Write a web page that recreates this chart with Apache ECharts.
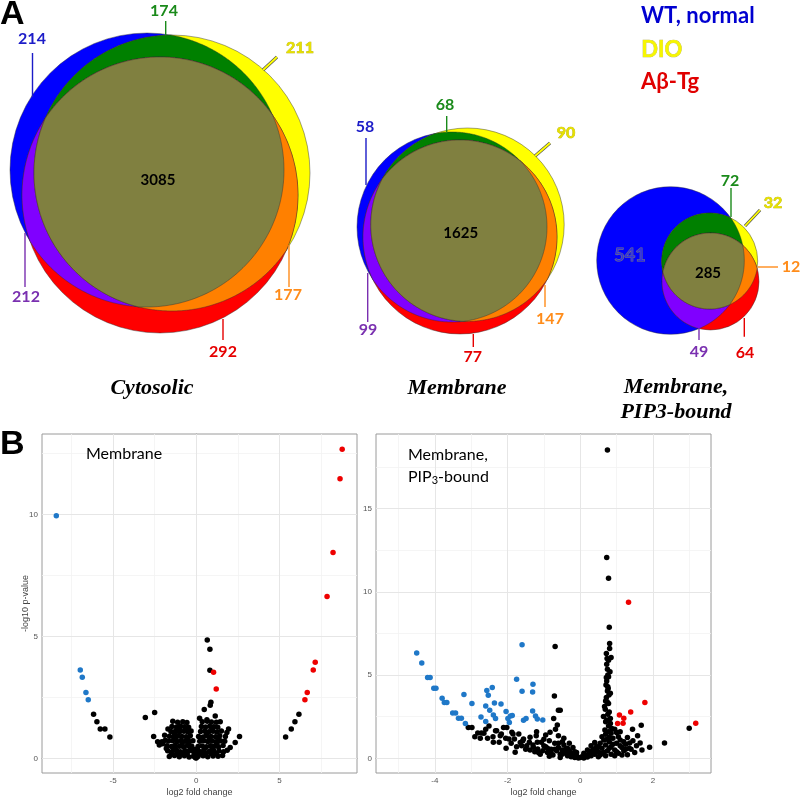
<!DOCTYPE html>
<html><head><meta charset="utf-8">
<script src="https://cdn.jsdelivr.net/npm/echarts@6/dist/echarts.min.js"></script>
<style>html,body{margin:0;padding:0;background:#fff}#c{width:800px;height:798px}</style>
</head><body><div id="c"></div>
<script>
// ---------------- DATA ----------------
const vennRegions = ['WT only','WT∩DIO','DIO only','WT∩DIO∩Aβ','WT∩Aβ','DIO∩Aβ','Aβ only'];
const cytosolicCounts = [214,174,211,3085,212,177,292];
const membraneCounts  = [58,68,90,1625,99,147,77];
const pip3Counts      = [541,72,32,285,49,12,64];
const vennTitles = ['Cytosolic','Membrane','Membrane,\nPIP3-bound'];
const legendNames = ['WT, normal','DIO','Aβ-Tg'];

// Volcano: Membrane
const membraneDown = [[-8.41,9.95],[-6.97,3.62],[-6.85,3.33],[-6.63,2.70],[-6.49,2.40]];
const membraneUp = [[8.77,12.67],[8.64,11.46],[8.22,8.44],[7.86,6.64],[7.15,3.94],[7.03,3.62],[6.67,2.70],[6.53,2.40],[1.04,3.53],[1.2,2.84]];
const membraneNS = [
 [-6.17,1.81],[-5.97,1.5],[-5.77,1.2],[-5.49,1.2],[-5.19,0.88],
 [6.17,1.81],[5.93,1.5],[5.71,1.2],[5.37,0.88],
 [0.66,4.85],[0.82,4.47],[0.82,3.61],[0.88,2.3],[0.84,2.18],[0.48,2.0],[0.2,1.64],[0.64,1.58],[1.14,1.74],[1.44,1.5],
 [1.84,1.06],[1.94,1.2],[2.04,0.45],[2.34,0.65],[2.6,0.9],
 [-3.06,1.68],[-2.5,1.88],[-2.56,0.9],[-2.32,0.68],[-2.06,0.68],
 [-1.62,0.08],[-1.31,0.12],[-1.02,0.07],[-0.71,0.11],[-0.43,0.06],[-0.16,0.09],
 [-1.72,0.31],[-1.44,0.28],[-1.19,0.33],[-0.96,0.27],[-0.68,0.32],[-0.47,0.29],[-0.22,0.31],
 [-1.76,0.52],[-1.49,0.49],[-1.27,0.54],[-1.01,0.5],[-0.77,0.48],[-0.52,0.53],[-0.27,0.5],
 [-1.66,0.71],[-1.41,0.72],[-1.14,0.69],[-0.91,0.73],[-0.66,0.7],[-0.41,0.68],[-0.2,0.72],
 [-1.61,0.91],[-1.36,0.88],[-1.09,0.92],[-0.86,0.9],[-0.61,0.89],[-0.36,0.93],
 [-1.52,1.1],[-1.24,1.12],[-1.01,1.08],[-0.74,1.11],[-0.51,1.09],[-0.31,1.12],
 [-1.46,1.31],[-1.19,1.29],[-0.96,1.33],[-0.71,1.3],[-0.46,1.28],
 [-1.41,1.52],[-1.12,1.48],[-0.81,1.5],[-0.56,1.47],
 [-1.86,0.74],[-2.02,0.6],[-2.22,0.55],[-1.9,0.95],[-1.8,0.4],[-1.7,1.2],
 [-1.5,0.2],[-1.15,0.18],[-0.85,0.2],[-0.55,0.17],[-1.3,0.4],[-0.85,0.6],[-0.35,0.4],[-1.25,0.8],[-0.5,0.8],[-1.0,1.2],[-0.6,1.2],[-1.3,1.0],
 [0.1,0.08],[0.41,0.11],[0.69,0.07],[1.01,0.1],[1.31,0.09],[1.58,0.12],
 [0.16,0.29],[0.44,0.31],[0.76,0.28],[1.04,0.32],[1.36,0.3],[1.64,0.27],[1.86,0.33],
 [0.11,0.49],[0.36,0.51],[0.61,0.48],[0.86,0.52],[1.09,0.5],[1.34,0.47],[1.61,0.53],
 [0.21,0.7],[0.46,0.72],[0.69,0.69],[0.96,0.71],[1.19,0.68],[1.46,0.72],[1.71,0.7],
 [0.14,0.9],[0.41,0.88],[0.66,0.92],[0.89,0.9],[1.16,0.89],[1.41,0.93],
 [0.26,1.1],[0.51,1.12],[0.76,1.09],[1.01,1.11],[1.24,1.08],[1.51,1.12],
 [0.31,1.31],[0.56,1.29],[0.81,1.32],[1.06,1.3],[1.29,1.28],
 [0.36,1.5],[0.66,1.52],[0.91,1.49],[1.21,1.48],
 [0.25,0.18],[0.55,0.2],[0.9,0.19],[1.2,0.2],[0.5,0.4],[0.95,0.4],[1.25,0.6],[0.3,0.85],[0.8,0.8],[1.3,0.85],[0.6,1.0],[0.95,1.2],
 [-0.05,0.03],[0.02,0.18],[-0.08,0.36],[0.0,0.01],[-0.12,0.2],[0.06,0.38],[1.75,0.9],[-0.6,0.2]
];

// Volcano: Membrane, PIP3-bound
const pip3Down = [
 [-4.5,6.32],[-4.36,5.73],[-4.2,4.85],[-4.13,4.85],[-4.03,4.21],[-3.97,4.21],[-3.8,3.61],[-3.74,3.35],[-3.67,3.35],
 [-3.51,2.73],[-3.43,2.73],[-3.35,2.41],[-3.27,2.41],[-3.16,2.1],[-3.2,3.83],[-2.98,3.29],[-2.73,2.49],[-2.6,3.15],
 [-2.57,4.07],[-2.53,3.79],[-2.42,4.25],[-2.49,2.89],[-2.39,2.61],[-2.6,2.22],[-2.33,2.4],[-2.36,3.33],[-2.18,3.27],
 [-2.04,2.81],[-1.99,2.4],[-1.92,2.55],[-1.87,2.57],[-1.95,2.15],[-1.75,4.75],[-1.6,4.03],[-1.6,6.83],[-1.3,4.45],
 [-1.31,3.99],[-1.31,2.85],[-1.23,2.55],[-1.18,2.37],[-1.03,2.31],[-1.56,2.29],[-1.49,2.4]
];
const pip3Up = [[1.33,9.38],[1.78,3.35],[1.39,2.79],[1.08,2.61],[1.2,2.41],[1.03,2.1],[1.18,2.11],[3.18,2.11]];
const pip3NS = [
 [0.75,18.52],[0.73,12.07],[0.78,10.82],[0.8,7.88],[0.81,6.9],[0.81,6.6],[0.85,6.05],[0.78,5.89],[0.73,5.65],[0.75,5.35],
 [0.72,4.85],[0.78,4.9],[0.73,4.65],[0.75,4.05],[0.83,3.91],[0.72,3.65],[0.78,3.3],[0.67,3.11],[0.8,2.79],[0.64,2.51],
 [0.83,2.4],[0.73,2.3],[0.83,2.1],[0.87,1.8],[0.78,1.6],[0.7,1.45],[0.8,1.25],[0.6,1.3],[0.76,4.3],[0.7,3.45],[0.82,5.2],
 [0.72,6.3],[0.74,6.0],[0.76,5.0],[0.71,4.4],[0.77,4.2],[0.79,3.8],[0.74,3.4],[0.69,2.95],[0.76,2.65],[0.7,2.2],[0.78,1.95],
 [0.68,1.7],[0.74,1.15],[0.85,1.5],
 [-0.69,6.72],[-0.71,3.75],[-0.6,2.89],[-0.55,2.89],[-0.73,2.4],[-0.63,2.0],[-0.83,1.56],[-0.68,1.75],[-0.6,1.36],[-0.49,1.0],
 [-3.08,1.85],[-2.98,1.85],[-2.82,1.52],[-2.72,1.52],[-2.55,1.2],[-2.51,1.95],[-2.39,0.96],[-2.23,0.96],[-2.3,1.65],[-2.2,1.35],
 [-2.04,0.6],[-1.79,0.36],[-2.02,1.85],[-1.88,1.56],[-1.81,1.16],[-1.69,1.46],[-1.56,1.16],[-1.47,0.76],[-1.38,1.26],[-1.29,0.66],
 [-1.18,0.96],[-1.21,1.35],[-1.07,0.96],[-1.03,0.46],[-1.4,0.96],[-1.38,0.5],[-1.17,0.56],[-1.61,0.76],[-1.58,1.05],[-1.96,1.16],
 [-1.85,1.46],[-2.11,1.86],[-2.17,1.46],[-2.33,1.65],[-2.65,1.5],[-2.9,1.3],
 [-0.95,0.7],[-0.9,0.35],[-0.85,1.05],[-0.8,0.55],[-0.75,0.2],[-0.7,0.9],[-0.65,0.45],[-0.6,0.65],[-0.55,0.25],[-0.5,0.5],
 [-0.45,0.8],[-0.4,0.3],[-0.35,0.15],[-0.3,0.45],[-0.25,0.1],[-0.2,0.3],[-0.15,0.05],[-0.1,0.15],[-0.05,0.02],[0,0.05],
 [0.05,0.1],[0.1,0.02],[0.15,0.2],[0.2,0.08],[0.25,0.35],[0.3,0.15],[0.35,0.55],[0.4,0.25],[0.45,0.7],[0.5,0.4],
 [0.55,0.9],[0.6,0.6],[0.65,1.1],[0.7,0.8],[0.75,0.45],[0.8,1.0],[0.85,0.7],[0.9,1.2],[0.95,0.5],[1.0,0.9],
 [1.05,0.3],[1.1,1.1],[1.15,0.65],[1.2,0.45],[1.25,0.85],[1.35,0.6],[1.45,1.05],[1.3,0.22],[0.4,0.95],[0.2,0.5],
 [-0.15,0.4],[-1.1,0.25],[-1.25,0.4],[-0.35,0.6],[0.3,0.75],[0.55,0.2],[0.65,0.35],[0.95,0.15],[-0.55,0.05],[-0.85,0.12],
 [0.3,0.4],[0.5,0.7],[0.6,0.3],[0.8,0.6],[0.9,0.85],[1.0,0.4],[1.05,1.3],[1.1,0.75],[1.2,1.0],[1.25,0.55],[1.3,1.25],
 [1.15,0.2],[0.85,0.25],[0.5,0.1],[0.35,0.3],[0.45,0.45],[0.7,0.15],[1.4,0.55],[1.5,0.35],[1.55,0.75],[1.7,0.5],
 [1.0,1.55],[0.95,1.75],[1.1,1.6],
 [-0.3,0.2],[-0.4,0.55],[-0.5,0.25],[-0.6,0.9],[-0.7,0.55],[-0.8,0.3],[-0.9,0.6],[-1.0,0.75],[-1.0,1.15],[-1.15,0.35],
 [-1.3,0.8],[-1.5,0.55],[-1.65,0.95],[-1.75,0.7],[-1.9,0.9],[-2.05,1.2],[-2.4,1.3],[-2.6,1.75],[-2.75,1.2],[-1.2,1.6],
 [-0.95,1.4],[-0.45,1.2],[-0.3,0.9],[-0.2,0.65],[-0.1,0.35],[0.1,0.3],
 [1.44,1.75],[1.68,1.99],[1.58,1.35],[1.65,0.92],[1.91,0.66],[2.32,0.92],[1.36,0.92],[3.0,1.81]
];

// ---------------- LAYOUT (geometry / styles) ----------------
const regionColors = ['#0000ff','#008000','#ffff00','#808040','#8000ff','#ff8000','#ff0000'];
const labelColors  = ['#1c1cc8','#1a8a1a','#e6e000','#000000','#7a30b0','#ff8c1a','#e60000'];
const vennCounts = [cytosolicCounts, membraneCounts, pip3Counts];
const vennLayout = [
 { circles:[[147,170,137],[172,173,138],[160,195,138]],
   labels:[[32,39,[32.5,53,32.5,97]],[164,11,[165.7,21,165.7,35]],[300,48,[277,57,263,70]],[158,180,null],
           [26,297,[25,233,25,287]],[288,295,[289,245,289,287]],[223,352,[223,319,223,340]]] },
 { circles:[[452,227,95],[467.5,224.7,96.7],[460,237,97]],
   labels:[[365,127,[366,138,366,185]],[445,105,[446.7,116,446.7,132]],[566,133,[550,143,535,156]],[460.7,233,null],
           [368,330,[367.7,273,367.7,322]],[550,319,[545,285,545,307]],[472.7,357,[473.3,334,473.3,347]]] },
 { circles:[[670.5,260.5,73.8],[709.7,261,48],[710.5,281.5,48.5]],
   labels:[[630,255,null],[730,181,[731,188,731,217]],[773,203,[760,210,745,226]],[708,272.7,null],
           [699,351.7,[699,328,699,340]],[791,267,[757.7,267,778,267]],[745,352.7,[744.3,318,744.3,336.7]]] }
];

function interPoly(cs){
  const pts=[];
  cs.forEach((c,i)=>{
    for(let k=0;k<720;k++){
      const a=k*Math.PI/360;
      const x=c.cx+c.r*Math.cos(a), y=c.cy+c.r*Math.sin(a);
      let ok=true;
      cs.forEach((d,j)=>{ if(j!==i && Math.hypot(x-d.cx,y-d.cy)>d.r+1e-6) ok=false; });
      if(ok) pts.push([x,y]);
    }
  });
  let mx=0,my=0; pts.forEach(p=>{mx+=p[0];my+=p[1];}); mx/=pts.length; my/=pts.length;
  pts.sort((p,q)=>Math.atan2(p[1]-my,p[0]-mx)-Math.atan2(q[1]-my,q[0]-mx));
  return pts;
}

function renderVenn(params, api){
  const vi = api.value(0);
  const L = vennLayout[vi];
  const counts = vennCounts[vi];
  const cs = L.circles.map(c=>{ const p=api.coord([c[0],c[1]]); return {cx:p[0],cy:p[1],r:api.size([c[2],0])[0]}; });
  const stroke = {stroke:'rgba(50,50,50,0.75)', lineWidth:0.6};
  const ch = [];
  [0,2,6].forEach((ci,k)=>ch.push({type:'circle',shape:{cx:cs[k].cx,cy:cs[k].cy,r:cs[k].r},style:Object.assign({fill:regionColors[ci]},stroke)}));
  ch.push({type:'polygon',shape:{points:interPoly([cs[0],cs[1]])},style:Object.assign({fill:regionColors[1]},stroke)});
  ch.push({type:'polygon',shape:{points:interPoly([cs[0],cs[2]])},style:Object.assign({fill:regionColors[4]},stroke)});
  ch.push({type:'polygon',shape:{points:interPoly([cs[1],cs[2]])},style:Object.assign({fill:regionColors[5]},stroke)});
  ch.push({type:'polygon',shape:{points:interPoly(cs)},style:Object.assign({fill:regionColors[3]},stroke)});
  L.labels.forEach((lb,ri)=>{
    const tp = api.coord([lb[0],lb[1]]);
    if(lb[2]){
      const a=api.coord([lb[2][0],lb[2][1]]), b=api.coord([lb[2][2],lb[2][3]]);
      if(ri===2){
        ch.push({type:'line',shape:{x1:a[0],y1:a[1],x2:b[0],y2:b[1]},style:{stroke:'#555',lineWidth:3.2}});
        ch.push({type:'line',shape:{x1:a[0],y1:a[1],x2:b[0],y2:b[1]},style:{stroke:'#ffff00',lineWidth:1.8}});
      } else {
        ch.push({type:'line',shape:{x1:a[0],y1:a[1],x2:b[0],y2:b[1]},style:{stroke:labelColors[ri],lineWidth:1.4}});
      }
    }
    const st = {text:String(counts[ri]), x:tp[0], y:tp[1], align:'center', verticalAlign:'middle',
      fill:labelColors[ri], fontFamily:'Lato', fontWeight:'bold', fontSize: ri===3?15:16};
    if(ri===2){ st.stroke='#b0a800'; st.lineWidth=0.6; }
    if(vi===2 && ri===0){ st.fill='#3030e8'; st.stroke='#777'; st.lineWidth=1.2; st.fontWeight='normal'; st.fontSize=18; }
    ch.push({type:'text', style:st});
  });
  return {type:'group', children:ch};
}

function gridSeries(ai, majX, minX, majY, minY){
  const d=[];
  minX.forEach(v=>d.push({xAxis:v,lineStyle:{color:'#f2f2f2',width:0.8,type:'solid'}}));
  minY.forEach(v=>d.push({yAxis:v,lineStyle:{color:'#f2f2f2',width:0.8,type:'solid'}}));
  majX.forEach(v=>d.push({xAxis:v,lineStyle:{color:'#e6e6e6',width:1,type:'solid'}}));
  majY.forEach(v=>d.push({yAxis:v,lineStyle:{color:'#e6e6e6',width:1,type:'solid'}}));
  return {type:'scatter',xAxisIndex:ai,yAxisIndex:ai,data:[],z:1,silent:true,animation:false,
    markLine:{silent:true,z:1,symbol:['none','none'],label:{show:false},animation:false,data:d}};
}

const membraneXTicks=[-5,0,5], membraneYTicks=[0,5,10];
const pip3XTicks=[-4,-2,0,2], pip3YTicks=[0,5,10,15];

function vAxisX(gi,min,max,ticks,name){
  return {gridIndex:gi,type:'value',min:min,max:max,
    axisLine:{show:true,lineStyle:{color:'#9a9a9a'}},
    axisTick:{show:true,customValues:ticks,length:3,lineStyle:{color:'#555'}},
    axisLabel:{customValues:ticks,fontSize:8,color:'#555',margin:4,fontFamily:'Liberation Sans'},
    splitLine:{show:false},
    name:name,nameLocation:'middle',nameGap:15,nameTextStyle:{fontSize:9,color:'#444',fontFamily:'Liberation Sans'}};
}
function vAxisY(gi,min,max,ticks,name){
  return {gridIndex:gi,type:'value',min:min,max:max,
    axisLine:{show:true,lineStyle:{color:'#9a9a9a'}},
    axisTick:{show:true,customValues:ticks,length:3,lineStyle:{color:'#555'}},
    axisLabel:{customValues:ticks,fontSize:8,color:'#555',margin:4,fontFamily:'Liberation Sans'},
    splitLine:{show:false},nameMoveOverlap:false,
    name:name,nameLocation:'middle',nameGap:12,nameTextStyle:{fontSize:9,color:'#444',fontFamily:'Liberation Sans'}};
}
function sc(x,y,data,color){
  return {type:'scatter',xAxisIndex:x,yAxisIndex:y,data:data,symbolSize:5.5,
    itemStyle:{color:color,opacity:1},silent:true,animation:false,z:3};
}

const chart = echarts.init(document.getElementById('c'),null,{renderer:'canvas'});
chart.setOption({
  backgroundColor:'#fff',
  animation:false,
  grid:[
    {left:0,top:0,width:800,height:400,show:false},
    {left:42,top:434,width:315,height:340,show:true,borderColor:'#9a9a9a',borderWidth:1,backgroundColor:'#fff'},
    {left:376,top:434,width:335,height:340,show:true,borderColor:'#9a9a9a',borderWidth:1,backgroundColor:'#fff'}
  ],
  xAxis:[
    {gridIndex:0,type:'value',min:0,max:800,show:false},
    vAxisX(1,-9.27,9.66,membraneXTicks,'log2 fold change'),
    vAxisX(2,-5.62,3.6,pip3XTicks,'log2 fold change')
  ],
  yAxis:[
    {gridIndex:0,type:'value',min:0,max:400,inverse:true,show:false},
    vAxisY(1,-0.6,13.3,membraneYTicks,'-log10 p-value'),
    vAxisY(2,-0.88,19.48,pip3YTicks,'')
  ],
  series:[
    {type:'custom',xAxisIndex:0,yAxisIndex:0,data:[[0],[1],[2]],renderItem:renderVenn,silent:true,clip:false,animation:false},
    gridSeries(1,[-5,0,5],[-7.5,-2.5,2.5,7.5],[0,5,10],[2.5,7.5,12.5]),
    gridSeries(2,[-4,-2,0,2],[-5,-3,-1,1,3],[0,5,10,15],[2.5,7.5,12.5,17.5]),
    sc(1,1,membraneNS,'#000000'),
    sc(1,1,membraneDown,'#1f78c8'),
    sc(1,1,membraneUp,'#ee0000'),
    sc(2,2,pip3NS,'#000000'),
    sc(2,2,pip3Down,'#1f78c8'),
    sc(2,2,pip3Up,'#ee0000')
  ],
  graphic:[
    {type:'text',z:100,left:0,top:-2,style:{text:'A',font:'bold 34px "Liberation Sans"',fill:'#000'}},
    {type:'text',z:100,left:0,top:428,style:{text:'B',font:'bold 34px "Liberation Sans"',fill:'#000'}},
    {type:'text',z:100,left:641,top:5,style:{text:legendNames[0],font:'bold 22px Lato',fill:'#0000d0'}},
    {type:'text',z:100,left:641,top:39,style:{text:legendNames[1],font:'bold 22px Lato',fill:'#f6f600',stroke:'#b8b050',lineWidth:0.6}},
    {type:'text',z:100,left:641,top:71,style:{text:legendNames[2],font:'bold 22px Lato',fill:'#e00000'}},
    {type:'text',z:100,x:152,y:388,style:{text:vennTitles[0],font:'italic bold 22px "Liberation Serif"',fill:'#000',align:'center',verticalAlign:'middle'}},
    {type:'text',z:100,x:457,y:388,style:{text:vennTitles[1],font:'italic bold 22px "Liberation Serif"',fill:'#000',align:'center',verticalAlign:'middle'}},
    {type:'text',z:100,x:676,y:400,style:{text:vennTitles[2],font:'italic bold 22px "Liberation Serif"',fill:'#000',align:'center',verticalAlign:'middle',lineHeight:25}},
    {type:'text',z:100,x:86,y:446,style:{text:'Membrane',font:'16px Lato',fill:'#000'}},
    {type:'text',z:100,x:408,y:447,style:{text:'Membrane,',font:'16px Lato',fill:'#000'}},
    {type:'text',z:100,x:408,y:467,style:{text:'PIP{s|3}-bound',font:'16px Lato',fill:'#000',rich:{s:{fontSize:11,fontFamily:'Lato',verticalAlign:'bottom',padding:[8,0,0,0]}}}}
  ]
});
</script>
</body></html>
